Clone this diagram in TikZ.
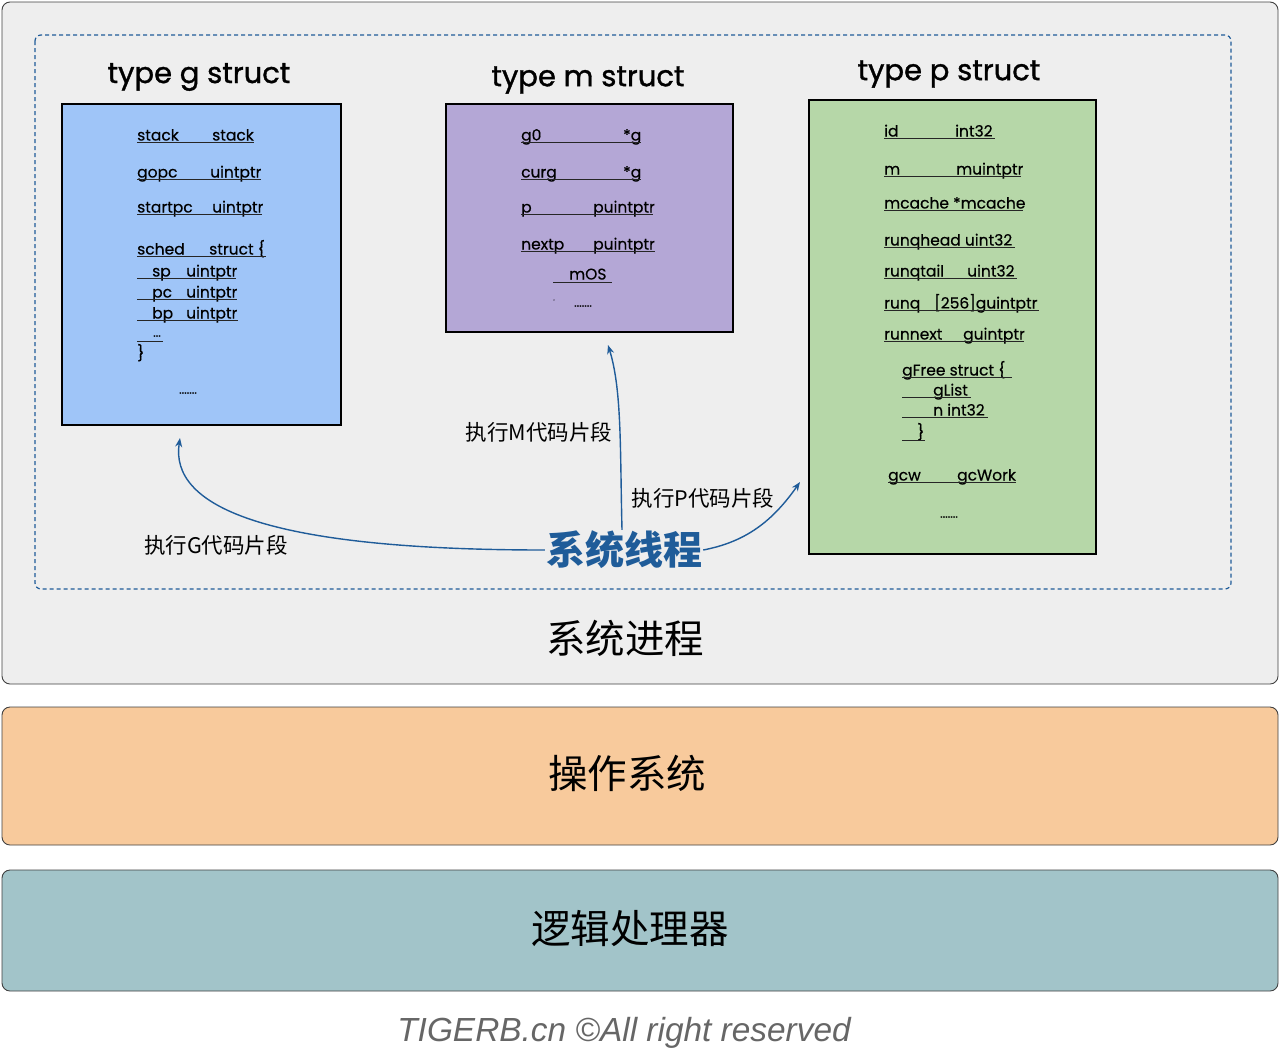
\documentclass[tikz,border=0pt]{standalone}
\usepackage{fontspec}
\usetikzlibrary{arrows.meta}
\setmainfont{Poppins}
\newfontfamily\pf[FakeBold=0.4]{Poppins}
\newfontfamily\ptl[FakeBold=1.2]{Poppins}
\newfontfamily\cjk{Noto Sans CJK SC}
\newfontfamily\foot{Liberation Sans}
\definecolor{bgg}{HTML}{EEEEEE}
\definecolor{dblue}{HTML}{1F5C99}
\definecolor{gfill}{HTML}{9FC5F8}
\definecolor{mfill}{HTML}{B4A7D6}
\definecolor{pfill}{HTML}{B6D7A8}
\definecolor{ofill}{HTML}{F8CA9C}
\definecolor{tfill}{HTML}{A2C4C9}
\definecolor{footc}{HTML}{666666}
\tikzset{
  layer/.style={draw=black!75, line width=0.9pt, rounded corners=8pt},
  sbox/.style={draw=black, line width=1.1pt},
  fld/.style={anchor=base west, inner sep=0pt, font=\pf\fontsize{15.5}{16}\selectfont},
  dots/.style={inner sep=0pt, font=\pf\fontsize{12}{12}\selectfont},
  ul/.style={line width=0.9pt, black!85},
  ttl/.style={inner sep=0pt, font=\ptl\fontsize{29}{30}\selectfont},
  lbl/.style={inner sep=0pt, font=\cjk\fontsize{21.5}{23}\selectfont},
  big/.style={inner sep=0pt, font=\cjk\fontsize{39.5}{41}\selectfont},
  arr/.style={draw=dblue, line width=1.4pt, -{Stealth[length=9pt,width=7pt]}}
}
\newcommand\fr[4]{\node[fld] (#1) at (#2,#3-1.5) {#4};}
\newcommand\ulin[3]{\draw[ul] (#1,#3) -- (#2,#3);}
\begin{document}
\begin{tikzpicture}[x=1pt,y=-1pt]
\useasboundingbox (0,0) rectangle (1280,1053);
% layers
\draw[layer, fill=bgg] (2,2) rectangle (1278,684);
\draw[dblue, line width=1.2pt, dashed, dash pattern=on 4pt off 3pt, rounded corners=6pt] (35,35) rectangle (1231,589);
\draw[layer, fill=ofill] (2,707) rectangle (1278,845);
\draw[layer, fill=tfill] (2,870) rectangle (1278,991);
\node[big] (proc) at (625,638) {系统进程};
\node[big] (os) at (627,773) {操作系统};
\node[big] (cpu) at (630,928) {逻辑处理器};
\node[inner sep=0pt, text=footc, font=\foot\itshape\fontsize{33.4}{35}\selectfont] (foot) at (624,1033) {TIGERB.cn ©All right reserved};
% titles
\node[ttl] (tg) at (199,77) {type g struct};
\node[ttl] (tm) at (588,80) {type m struct};
\node[ttl] (tp) at (949,74) {type p struct};
% boxes
\draw[sbox, fill=gfill] (62,104) rectangle (341,425);
\draw[sbox, fill=mfill] (446,104) rectangle (733,332);
\draw[sbox, fill=pfill] (809,100) rectangle (1096,554);
\coordinate (gbot) at (180,438);
\coordinate (mbot) at (608,345);
\coordinate (pleft) at (800,482);
% g fields
\fr{g1}{137}{142}{stack}\fr{g1t}{212}{142}{stack}\ulin{137}{254}{142}
\fr{g2}{137}{179}{gopc}\fr{g2t}{210}{179}{uintptr}\ulin{137}{261}{179}
\fr{g3}{137}{214}{startpc}\fr{g3t}{212}{214}{uintptr}\ulin{137}{262}{214}
\fr{g4}{137}{256}{sched}\fr{g4t}{209}{256}{struct \{}\ulin{137}{266}{256}
\fr{g5}{152}{278}{sp}\fr{g5t}{186}{278}{uintptr}\ulin{137}{236}{278}
\fr{g6}{152}{299}{pc}\fr{g6t}{186}{299}{uintptr}\ulin{137}{237}{299}
\fr{g7}{152}{320}{bp}\fr{g7t}{186}{320}{uintptr}\ulin{137}{238}{320}
\node[dots] (g8) at (157,336) {...};\ulin{137}{163}{341}
\fr{g9}{137}{360}{\}}
\node[dots] (g10) at (188,393) {.......};
% m fields
\fr{m1}{521}{142}{g0}\fr{m1t}{623}{142}{*g}\ulin{521}{641}{142}
\fr{m2}{521}{179}{curg}\fr{m2t}{623}{179}{*g}\ulin{521}{641}{179}
\fr{m3}{521}{214}{p}\fr{m3t}{593}{214}{puintptr}\ulin{521}{653}{214}
\fr{m4}{521}{251}{nextp}\fr{m4t}{593}{251}{puintptr}\ulin{521}{655}{251}
\fr{m5}{569}{281}{mOS}\ulin{553}{612}{282}
\node[dots] (m6) at (583,306) {.......};
\node[inner sep=0pt, font=\pf\fontsize{6}{7}\selectfont] (m7) at (554,300) {.};
% p fields
\fr{p1}{884}{138}{id}\fr{p1t}{955}{138}{int32}\ulin{884}{995}{138}
\fr{p2}{884}{176}{m}\fr{p2t}{956}{176}{muintptr}\ulin{884}{1021}{176}
\fr{p3}{884}{210}{mcache *mcache}\ulin{884}{1023}{210}
\fr{p4}{884}{247}{runqhead uint32}\ulin{884}{1015}{247}
\fr{p5}{884}{278}{runqtail}\fr{p5t}{967}{278}{uint32}\ulin{884}{1017}{278}
\fr{p6}{884}{310}{runq}\fr{p6t}{934}{310}{[256]guintptr}\ulin{884}{1039}{310}
\fr{p7}{884}{341}{runnext}\fr{p7t}{963}{341}{guintptr}\ulin{884}{1024}{341}
\fr{p8}{902}{377}{gFree struct \{}\ulin{902}{1012}{377}
\fr{p9}{933}{397}{gList}\ulin{902}{971}{397}
\fr{p10}{933}{417}{n int32}\ulin{902}{988}{417}
\fr{p11}{917}{439}{\}}\ulin{902}{925}{440}
\fr{p12}{888}{482}{gcw}\fr{p12t}{957}{482}{gcWork}\ulin{888}{1016}{482}
\node[dots] (p13) at (949,517) {.......};
% thread
\node[inner sep=1pt, text=dblue, font=\cjk\bfseries\fontsize{39}{41}\selectfont] (th) at (624,550) {系统线程};
\node[lbl] (lm) at (539,432) {执行M代码片段};
\node[lbl] (lp) at (703,498) {执行P代码片段};
\node[lbl] (lg) at (216,545) {执行G代码片段};
\draw[arr] (th.west) .. controls (260,550) and (170,505) .. (gbot);
\draw[arr] (th.north) ++(-2,0) .. controls (620,450) and (622,390) .. (mbot);
\draw[arr] (th.east) .. controls (745,542) and (772,522) .. (pleft);
\end{tikzpicture}
\end{document}
